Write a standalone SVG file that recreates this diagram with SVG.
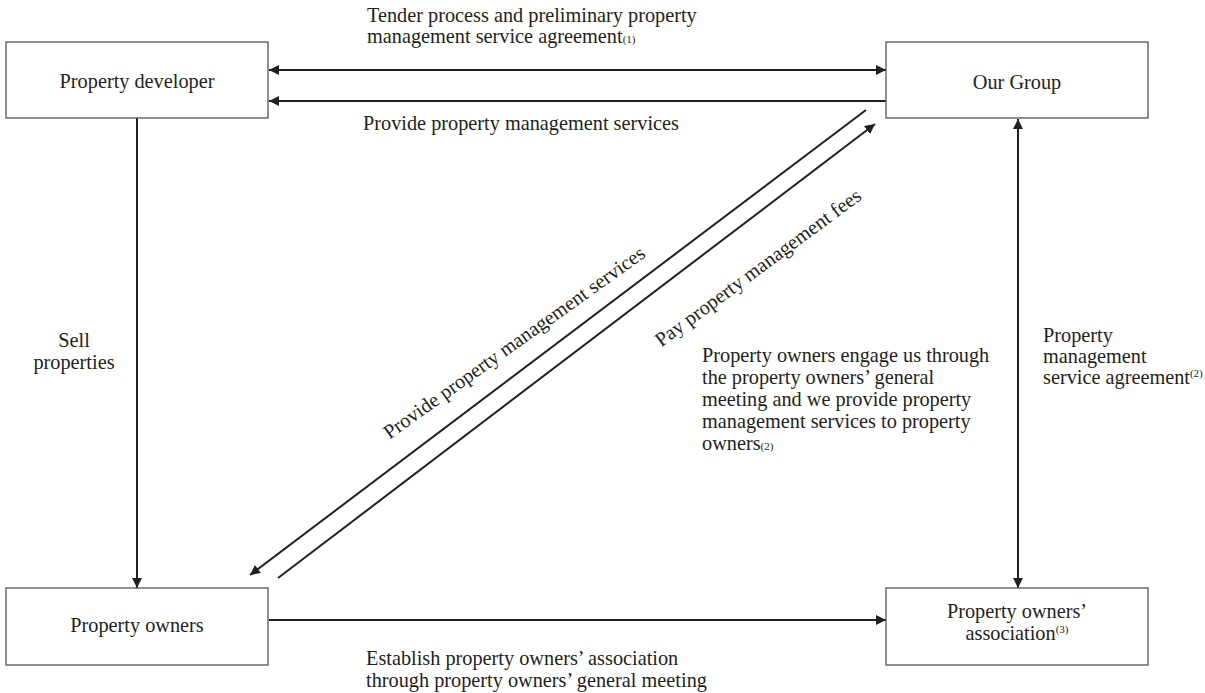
<svg xmlns="http://www.w3.org/2000/svg" width="1205" height="693" viewBox="0 0 1205 693">
<style>
.box{fill:#fff;stroke:#555;stroke-width:1.3}
.t{font-family:"Liberation Serif","Times New Roman",serif;font-size:20.3px;fill:#231f20}
.c{text-anchor:middle}
.s{font-size:11px}
.ln{stroke:#231f20;stroke-width:2;fill:none}
</style>
<defs>
<marker id="ah" viewBox="0 0 10 10" refX="10" refY="5" markerWidth="5" markerHeight="5" orient="auto-start-reverse" markerUnits="strokeWidth">
<path d="M0,0 L10,5 L0,10 Z" fill="#231f20"/>
</marker>
</defs>
<rect width="1205" height="693" fill="#fff"/>
<g id="connectors">
<line class="ln" x1="269" y1="70" x2="886" y2="70" marker-start="url(#ah)" marker-end="url(#ah)"/>
<line class="ln" x1="886" y1="101" x2="269" y2="101" marker-end="url(#ah)"/>
<line class="ln" x1="137" y1="118" x2="137" y2="588" marker-end="url(#ah)"/>
<line class="ln" x1="269" y1="620" x2="886" y2="620" marker-end="url(#ah)"/>
<line class="ln" x1="1018" y1="119" x2="1018" y2="588" marker-start="url(#ah)" marker-end="url(#ah)"/>
<line class="ln" x1="866" y1="110" x2="250" y2="575" marker-end="url(#ah)"/>
<line class="ln" x1="278" y1="578" x2="875" y2="124" marker-end="url(#ah)"/>
</g>
<g id="developer">
<rect class="box" x="6" y="42" width="262" height="76"/>
<text class="t c" x="137" y="88">Property developer</text>
</g>
<g id="group">
<rect class="box" x="886" y="42" width="262" height="76"/>
<text class="t c" x="1017" y="89">Our Group</text>
</g>
<g id="owners">
<rect class="box" x="6" y="588" width="262" height="77"/>
<text class="t c" x="137" y="632">Property owners</text>
</g>
<g id="association">
<rect class="box" x="886" y="588" width="262" height="77"/>
<text class="t c" x="1017" y="618">Property owners’</text>
<text class="t c" x="1017" y="640">association<tspan class="s" dy="-7">(3)</tspan></text>
</g>
<g id="labels">
<text class="t" x="367" y="22">Tender process and preliminary property</text>
<text class="t" x="367" y="43">management service agreement<tspan class="s">(1)</tspan></text>
<text class="t" x="363" y="130">Provide property management services</text>
<text class="t c" x="74" y="347">Sell</text>
<text class="t c" x="74" y="369">properties</text>
<text class="t" x="702" y="362">Property owners engage us through</text>
<text class="t" x="702" y="384">the property owners’ general</text>
<text class="t" x="702" y="406">meeting and we provide property</text>
<text class="t" x="702" y="428">management services to property</text>
<text class="t" x="702" y="450">owners<tspan class="s">(2)</tspan></text>
<text class="t" x="1043" y="342">Property</text>
<text class="t" x="1043" y="363">management</text>
<text class="t" x="1043" y="384">service agreement<tspan class="s" dy="-7">(2)</tspan></text>
<text class="t" x="366" y="665">Establish property owners’ association</text>
<text class="t" x="366" y="687">through property owners’ general meeting</text>
<text class="t c" transform="translate(518,348) rotate(-35.5)">Provide property management services</text>
<text class="t c" transform="translate(762,273) rotate(-36.5)">Pay property management fees</text>
</g>
</svg>
